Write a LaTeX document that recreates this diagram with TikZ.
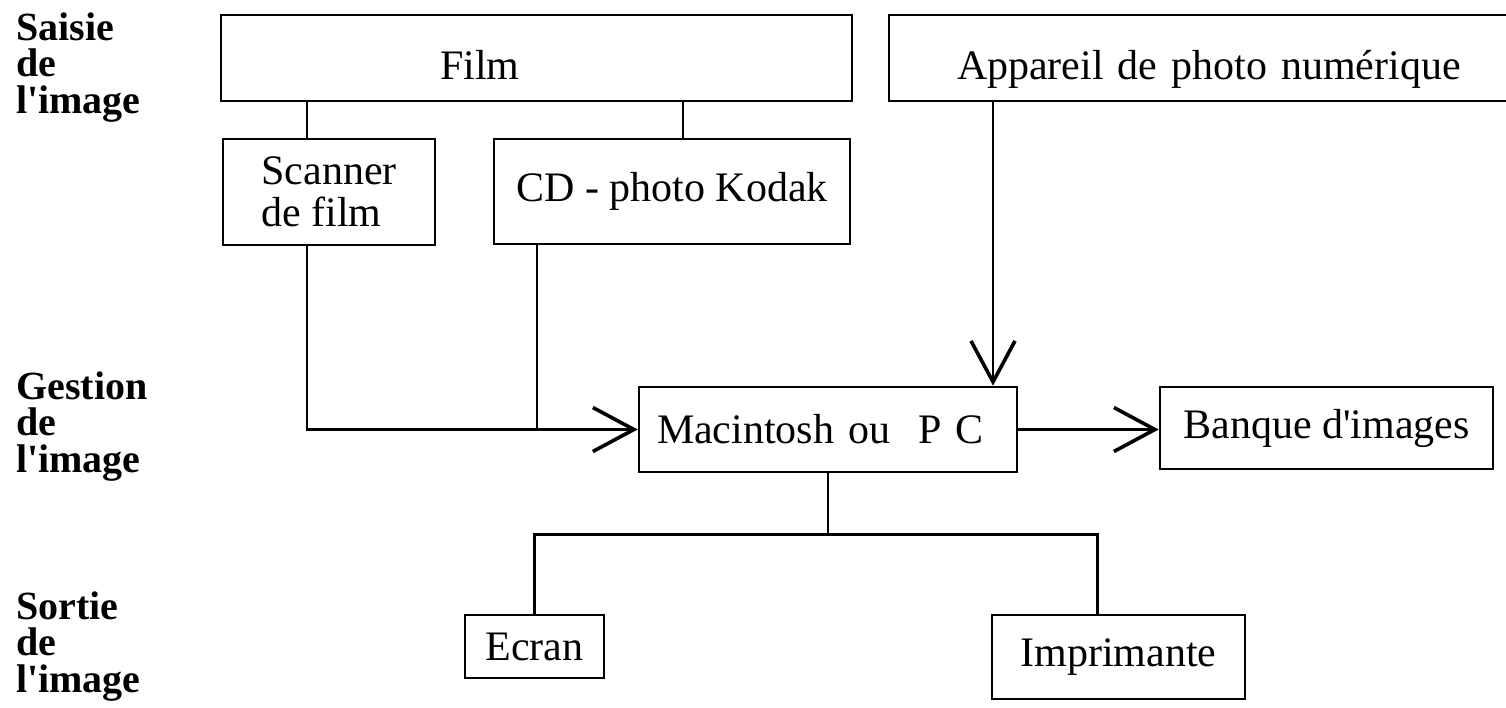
\documentclass[tikz,border=0pt]{standalone}
\usepackage{fontspec}
\setmainfont{Liberation Serif}
\usetikzlibrary{arrows.meta,positioning}

\newcommand{\limg}{l\textquotesingle image}

\tikzset{
  box/.style={draw,line width=2.6pt,rectangle,inner sep=0pt,font=\fontsize{42}{42}\selectfont},
  lab/.style={anchor=north west,align=left,inner sep=0pt,font=\fontsize{40}{36.5}\selectfont\bfseries},
  bigbarb/.style={-{Straight Barb[length=41pt,width=44pt,line width=3.6pt]}}
}

\begin{document}
\begin{tikzpicture}[x=1pt,y=-1pt,line width=2.6pt]
  \useasboundingbox (0,0) rectangle (1506,707);
  \clip (0,0) rectangle (1506,707);

  \node[lab] (saisie)  at (15,11)  {Saisie\\de\\\limg};
  \node[lab] (gestion) at (15,370) {Gestion\\de\\\limg};
  \node[lab] (sortie)  at (15,590) {Sortie\\de\\\limg};

  \node[box,minimum height=86pt,text width=193pt,inner xsep=219pt,align=left,text height=42pt,text depth=0pt] (film) at (536.5,58) {Film};
  \node[box,minimum height=86pt,text width=520pt,inner xsep=68pt,align=left,text height=42pt,text depth=0pt] (app) at (1217,58) {Appareil de photo numérique};
  \node[box,minimum width=212pt,minimum height=106pt,align=left] (scan) at (329,192) {Scanner\\de film};
  \node[box,minimum width=356pt,minimum height=105pt] (cd) at (672,191.5) {CD - photo Kodak};
  \node[box,minimum height=85pt,text width=342pt,inner xsep=18pt,align=left] (mac) at (828,429.5) {Macintosh ou\ \ P C};
  \node[box,minimum width=333pt,minimum height=82pt] (banque) at (1326.5,428) {Banque d\textquotesingle images};
  \node[box,minimum width=139pt,minimum height=63pt] (ecran) at (534.5,646.5) {Ecran};
  \node[box,minimum width=253pt,minimum height=84pt] (impr) at (1118.5,657) {Imprimante};

  \draw ([xshift=-22pt]scan.north) -- ([xshift=-22pt]scan.north |- film.south);
  \draw ([xshift=11pt]cd.north) -- ([xshift=11pt]cd.north |- film.south);

  \draw[bigbarb] ([xshift=-22pt]scan.south) |- (mac.west);
  \draw ([xshift=-135pt]cd.south) -- ([xshift=-135pt]cd.south |- mac.west);
  \draw[bigbarb] ([xshift=-224pt]app.south) -- ([xshift=-224pt]app.south |- mac.north);
  \draw[bigbarb] (mac.east) -- (mac.east -| banque.west);

  \draw (mac.south) -- ++(0,61) coordinate (split);
  \draw (ecran.north) |- (split) -| ([xshift=-21pt]impr.north);
\end{tikzpicture}
\end{document}
